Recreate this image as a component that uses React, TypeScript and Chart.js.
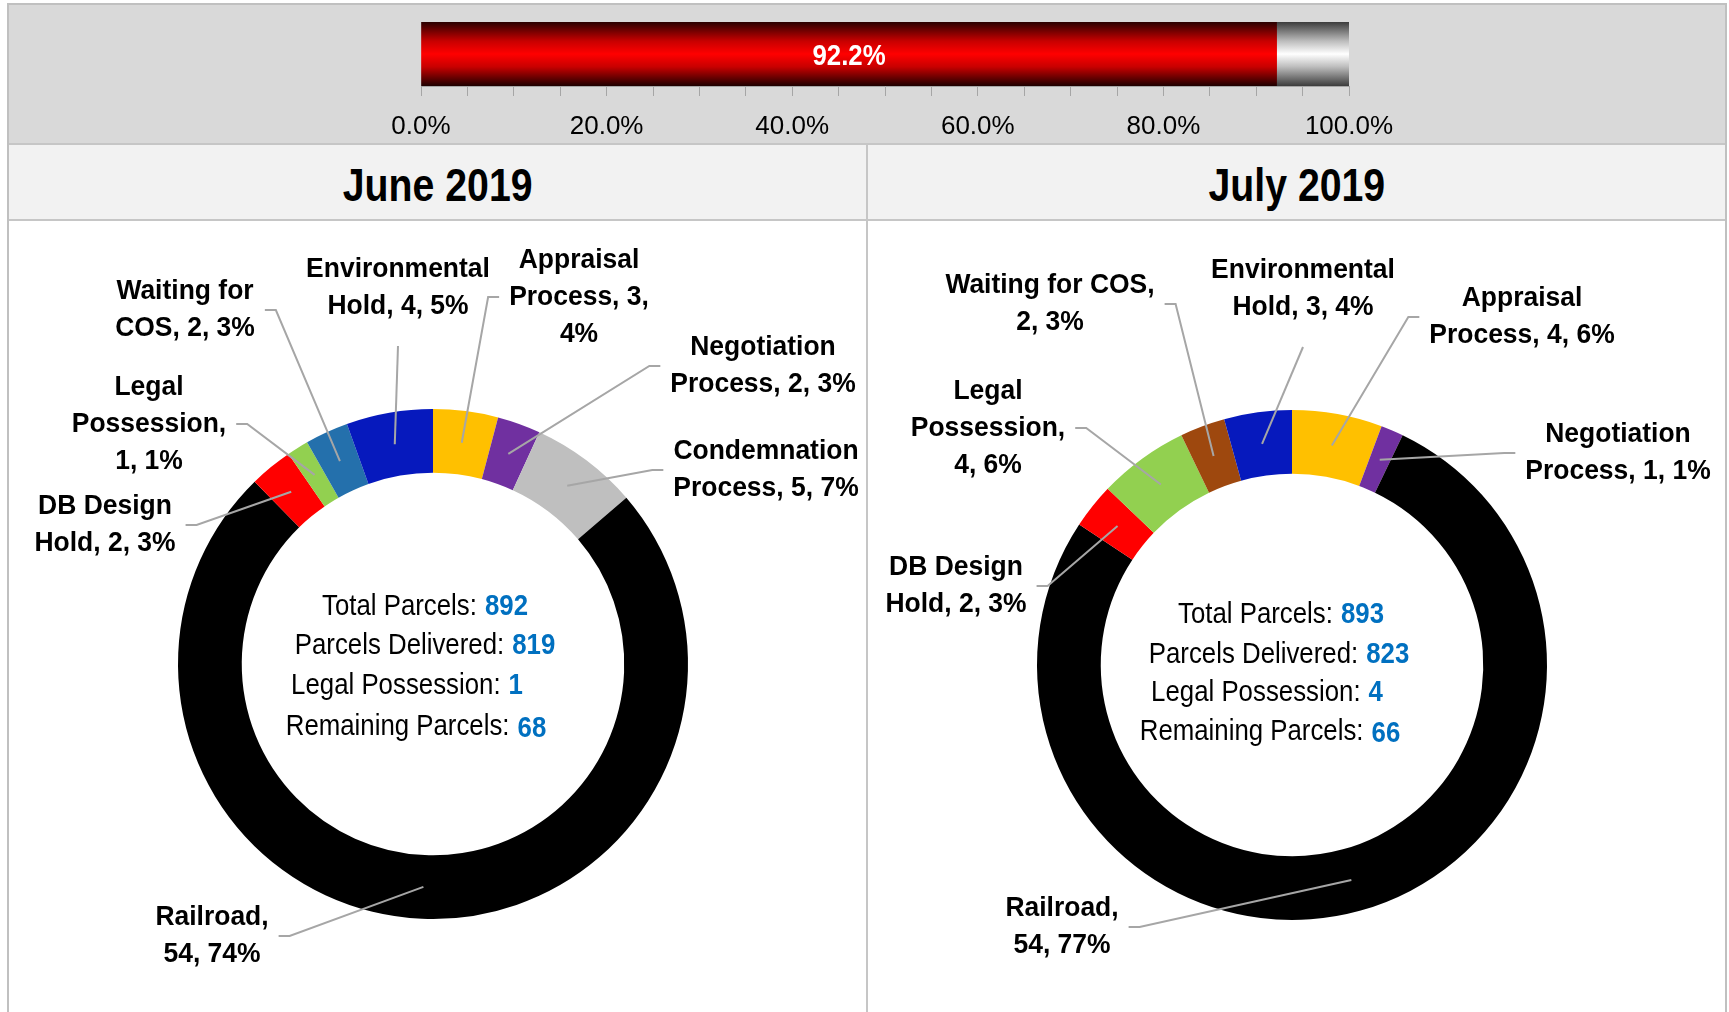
import React, { useEffect, useRef } from "react";
import { Chart, registerables } from "chart.js";

Chart.register(...registerables);

// ---------------- Data ----------------
const progressComplete = [92.2];
const progressRemaining = [7.8];
const progressTickLabels = ["0.0%", "20.0%", "40.0%", "60.0%", "80.0%", "100.0%"];

const periodTitles = ["June 2019", "July 2019"];

const juneCategories = [
  "Appraisal Process",
  "Negotiation Process",
  "Condemnation Process",
  "Railroad",
  "DB Design Hold",
  "Legal Possession",
  "Waiting for COS",
  "Environmental Hold",
];
const juneValues = [3, 2, 5, 54, 2, 1, 2, 4];

const julyCategories = [
  "Appraisal Process",
  "Negotiation Process",
  "Railroad",
  "DB Design Hold",
  "Legal Possession",
  "Waiting for COS",
  "Environmental Hold",
];
const julyValues = [4, 1, 54, 2, 4, 2, 3];

const summaryLabels = ["Total Parcels:", "Parcels Delivered:", "Legal Possession:", "Remaining Parcels:"];
const juneSummary = [892, 819, 1, 68];
const julySummary = [893, 823, 4, 66];

// ---------------- Styles / layout ----------------
const juneColors = ["#FFC000", "#7030A0", "#BFBFBF", "#000000", "#FF0000", "#92D050", "#2470AC", "#0619BD"];
const julyColors = ["#FFC000", "#7030A0", "#000000", "#FF0000", "#92D050", "#9E480E", "#0619BD"];

type Side = "left" | "right" | "bottom";
type LabelLayout = { dx: number; dy: number; words: number[]; side: Side };

const juneLabelLayout: LabelLayout[] = [
  { dx: 146, dy: -367, words: [1, 2, 1], side: "left" },
  { dx: 330, dy: -298, words: [1, 3], side: "left" },
  { dx: 333, dy: -194, words: [1, 3], side: "left" },
  { dx: -221, dy: 272, words: [1, 2], side: "right" },
  { dx: -328, dy: -139, words: [2, 3], side: "right" },
  { dx: -284, dy: -240, words: [1, 1, 2], side: "right" },
  { dx: -248, dy: -354, words: [2, 3], side: "right" },
  { dx: -35, dy: -376, words: [1, 3], side: "bottom" },
];

const julyLabelLayout: LabelLayout[] = [
  { dx: 230, dy: -348, words: [1, 3], side: "left" },
  { dx: 326, dy: -212, words: [1, 3], side: "left" },
  { dx: -230, dy: 262, words: [1, 2], side: "right" },
  { dx: -336, dy: -79, words: [2, 3], side: "right" },
  { dx: -304, dy: -237, words: [1, 1, 2], side: "right" },
  { dx: -242, dy: -361, words: [3, 2], side: "right" },
  { dx: 11, dy: -376, words: [1, 3], side: "bottom" },
];

const juneSummaryLayout = [
  { dx: -8, dy: -57 },
  { dx: -8, dy: -18 },
  { dx: -26, dy: 22 },
  { dx: -17, dy: 63 },
];
const julySummaryLayout = [
  { dx: -11, dy: -50 },
  { dx: -13, dy: -10 },
  { dx: -25, dy: 28 },
  { dx: -22, dy: 67 },
];

const FONT = '"Liberation Sans", Arial, Helvetica, sans-serif';
const LABEL_FONT = `bold 28px ${FONT}`;
const LABEL_SX = 0.945;
const LABEL_LINE_H = 37;
const SUM_FONT = `29px ${FONT}`;
const SUM_NUM_FONT = `bold 29px ${FONT}`;
const SUM_SX = 0.89;
const LEADER_COLOR = "#A6A6A6";

function drawScaled(ctx: CanvasRenderingContext2D, text: string, x: number, y: number, sx: number, align: CanvasTextAlign) {
  ctx.save();
  ctx.translate(x, y);
  ctx.scale(sx, 1);
  ctx.textAlign = align;
  ctx.textBaseline = "middle";
  ctx.fillText(text, 0, 0);
  ctx.restore();
}

function makeGradient(chart: any, stops: [number, string][]) {
  const area = chart.chartArea;
  if (!area) return stops[Math.floor(stops.length / 2)][1];
  const g = chart.ctx.createLinearGradient(0, area.top, 0, area.bottom);
  stops.forEach(([o, c]) => g.addColorStop(o, c));
  return g;
}

const redStops: [number, string][] = [
  [0, "#2a0000"],
  [0.3, "#c80000"],
  [0.5, "#ff0000"],
  [0.7, "#c80000"],
  [1, "#1e0000"],
];
const grayStops: [number, string][] = [
  [0, "#3c3c3c"],
  [0.3, "#bdbdbd"],
  [0.5, "#ffffff"],
  [0.7, "#bdbdbd"],
  [1, "#3c3c3c"],
];

function ProgressBar() {
  const ref = useRef<HTMLCanvasElement | null>(null);
  useEffect(() => {
    if (!ref.current) return;
    const barLabelPlugin = {
      id: "barLabel",
      afterDatasetsDraw(chart: any) {
        const meta = chart.getDatasetMeta(0);
        const el = meta.data[0];
        if (!el) return;
        const ctx = chart.ctx as CanvasRenderingContext2D;
        ctx.save();
        ctx.fillStyle = "#ffffff";
        ctx.font = `bold 30px ${FONT}`;
        drawScaled(ctx, `${progressComplete[0].toFixed(1)}%`, (el.x + el.base) / 2, el.y + 3, 0.86, "center");
        ctx.restore();
      },
    };
    const chart = new Chart(ref.current, {
      type: "bar",
      data: {
        labels: ["Progress"],
        datasets: [
          {
            data: progressComplete,
            backgroundColor: (c: any) => makeGradient(c.chart, redStops),
            borderWidth: 0,
            barPercentage: 1,
            categoryPercentage: 1,
          },
          {
            data: progressRemaining,
            backgroundColor: (c: any) => makeGradient(c.chart, grayStops),
            borderWidth: 0,
            barPercentage: 1,
            categoryPercentage: 1,
          },
        ],
      },
      options: {
        indexAxis: "y",
        animation: false,
        responsive: false,
        devicePixelRatio: 1,
        events: [],
        layout: { padding: { left: 421, right: 380, top: 22, bottom: 0 } },
        plugins: { legend: { display: false }, tooltip: { enabled: false } },
        scales: {
          x: {
            type: "linear",
            stacked: true,
            min: 0,
            max: 100,
            position: "bottom",
            afterFit: (s: any) => {
              s.height = 57;
            },
            grid: { drawOnChartArea: false, drawTicks: true, tickLength: 10, color: "#a6a6a6", lineWidth: 1 },
            border: { display: true, color: "#a6a6a6", width: 1 },
            ticks: {
              stepSize: 5,
              autoSkip: false,
              maxRotation: 0,
              padding: 15,
              color: "#000000",
              font: { family: FONT, size: 26 },
              callback: (v: any) => (Number(v) % 20 === 0 ? progressTickLabels[Number(v) / 20] : ""),
            },
          },
          y: { stacked: true, display: false },
        },
      } as any,
      plugins: [barLabelPlugin],
    });
    return () => chart.destroy();
  }, []);
  return (
    <canvas
      ref={ref}
      width={1729}
      height={143}
      style={{ position: "absolute", left: 0, top: 0, width: 1729, height: 143, display: "block" }}
    />
  );
}

type DonutProps = {
  categories: string[];
  values: number[];
  colors: string[];
  layout: LabelLayout[];
  summary: number[];
  summaryLayout: { dx: number; dy: number }[];
  left: number;
  top: number;
  padding: { left: number; right: number; top: number; bottom: number };
};

function Donut(props: DonutProps) {
  const ref = useRef<HTMLCanvasElement | null>(null);
  useEffect(() => {
    if (!ref.current) return;
    const { categories, values, colors, layout, summary, summaryLayout, padding } = props;
    const labelPlugin = {
      id: "donutLabels",
      afterDraw(chart: any) {
        const ctx = chart.ctx as CanvasRenderingContext2D;
        const arcs = chart.getDatasetMeta(0).data;
        if (!arcs.length) return;
        const ox = arcs[0].x;
        const oy = arcs[0].y;
        const total = values.reduce((a, b) => a + b, 0);
        ctx.save();
        categories.forEach((cat, i) => {
          const lay = layout[i];
          const pct = Math.round((values[i] / total) * 100);
          const words = `${cat}, ${values[i]}, ${pct}%`.split(" ");
          const lines: string[] = [];
          let k = 0;
          lay.words.forEach((n) => {
            lines.push(words.slice(k, k + n).join(" "));
            k += n;
          });
          ctx.font = LABEL_FONT;
          const maxW = Math.max(...lines.map((l) => ctx.measureText(l).width * LABEL_SX));
          const lx = ox + lay.dx;
          const ly = oy + lay.dy;
          const blockTop = ly - (lines.length * LABEL_LINE_H) / 2;
          // leader line
          const p = arcs[i].tooltipPosition(false);
          ctx.strokeStyle = LEADER_COLOR;
          ctx.lineWidth = 2;
          ctx.beginPath();
          if (lay.side === "right") {
            const x0 = lx + maxW / 2 + 10;
            ctx.moveTo(x0, ly);
            ctx.lineTo(x0 + 11, ly);
          } else if (lay.side === "left") {
            const x0 = lx - maxW / 2 - 10;
            ctx.moveTo(x0, ly);
            ctx.lineTo(x0 - 11, ly);
          } else {
            ctx.moveTo(lx, blockTop + lines.length * LABEL_LINE_H + 21);
          }
          ctx.lineTo(p.x, p.y);
          ctx.stroke();
          // text
          ctx.fillStyle = "#000000";
          ctx.font = LABEL_FONT;
          lines.forEach((l, j) => {
            drawScaled(ctx, l, lx, blockTop + LABEL_LINE_H * (j + 0.5), LABEL_SX, "center");
          });
        });
        // center summary
        summaryLabels.forEach((lab, j) => {
          const s = summaryLayout[j];
          ctx.font = SUM_FONT;
          const lw = ctx.measureText(lab).width * SUM_SX;
          ctx.font = SUM_NUM_FONT;
          const num = String(summary[j]);
          const nw = ctx.measureText(num).width * SUM_SX;
          const gap = 8;
          const x0 = ox + s.dx - (lw + gap + nw) / 2;
          const y = oy + s.dy;
          ctx.fillStyle = "#000000";
          ctx.font = SUM_FONT;
          drawScaled(ctx, lab, x0, y, SUM_SX, "left");
          ctx.fillStyle = "#0070C0";
          ctx.font = SUM_NUM_FONT;
          drawScaled(ctx, num, x0 + lw + gap, y + (j === 3 ? 2 : 0), SUM_SX, "left");
        });
        ctx.restore();
      },
    };
    const chart = new Chart(ref.current, {
      type: "doughnut",
      data: {
        labels: categories,
        datasets: [
          {
            data: values,
            backgroundColor: colors,
            borderWidth: 0,
          },
        ],
      },
      options: {
        animation: false,
        responsive: false,
        devicePixelRatio: 1,
        events: [],
        cutout: "75%",
        layout: { padding },
        plugins: { legend: { display: false }, tooltip: { enabled: false } },
      } as any,
      plugins: [labelPlugin],
    });
    return () => chart.destroy();
  }, []);
  return (
    <canvas
      ref={ref}
      width={857}
      height={791}
      style={{ position: "absolute", left: props.left, top: props.top, width: 857, height: 791, display: "block" }}
    />
  );
}

function Title({ text, left }: { text: string; left: number }) {
  return (
    <div
      style={{
        position: "absolute",
        left,
        top: 147,
        width: 857,
        height: 74,
        display: "flex",
        alignItems: "center",
        justifyContent: "center",
      }}
    >
      <span
        style={{
          fontFamily: FONT,
          fontWeight: "bold",
          fontSize: 47,
          color: "#000",
          display: "inline-block",
          transform: "scaleX(0.835)",
          whiteSpace: "nowrap",
        }}
      >
        {text}
      </span>
    </div>
  );
}

export default function App() {
  const line = "#c6c6c6";
  return (
    <div
      style={{
        position: "absolute",
        left: 0,
        top: 0,
        width: 1729,
        height: 1012,
        background: "#ffffff",
        overflow: "hidden",
        fontFamily: FONT,
      }}
    >
      <div
        style={{
          position: "absolute",
          left: 7,
          top: 3,
          width: 1720,
          height: 1030,
          border: "2px solid #c0c0c0",
          boxSizing: "border-box",
        }}
      />
      <div style={{ position: "absolute", left: 9, top: 5, width: 1716, height: 138, background: "#d9d9d9" }} />
      <ProgressBar />
      <div style={{ position: "absolute", left: 9, top: 143, width: 1716, height: 2, background: line }} />
      <div style={{ position: "absolute", left: 9, top: 145, width: 1716, height: 74, background: "#f2f2f2" }} />
      <div style={{ position: "absolute", left: 9, top: 219, width: 1716, height: 2, background: line }} />
      <div style={{ position: "absolute", left: 866, top: 143, width: 2, height: 880, background: line }} />
      <Title text={periodTitles[0]} left={9} />
      <Title text={periodTitles[1]} left={868} />
      <Donut
        categories={juneCategories}
        values={juneValues}
        colors={juneColors}
        layout={juneLabelLayout}
        summary={juneSummary}
        summaryLayout={juneSummaryLayout}
        left={9}
        top={221}
        padding={{ left: 169, right: 178, top: 188, bottom: 93 }}
      />
      <Donut
        categories={julyCategories}
        values={julyValues}
        colors={julyColors}
        layout={julyLabelLayout}
        summary={julySummary}
        summaryLayout={julySummaryLayout}
        left={868}
        top={221}
        padding={{ left: 169, right: 178, top: 189, bottom: 92 }}
      />
    </div>
  );
}
